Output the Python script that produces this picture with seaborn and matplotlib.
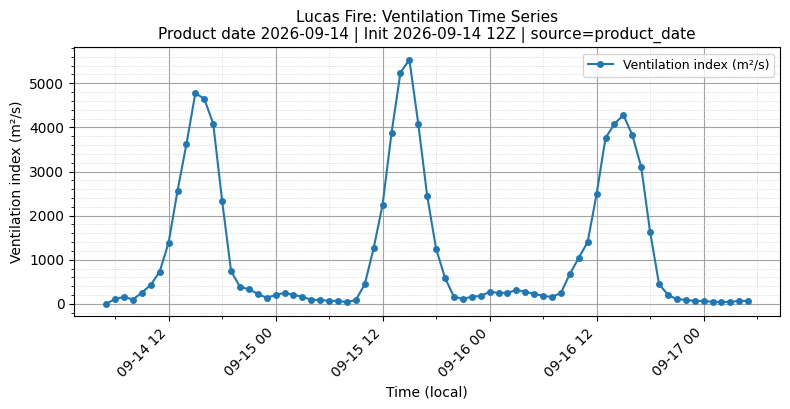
import numpy as np
import pandas as pd
import matplotlib
matplotlib.use("Agg")
import matplotlib.pyplot as plt
import matplotlib.dates as mdates
from matplotlib.ticker import AutoMinorLocator
import seaborn as sns

start_time = "2026-09-14 05:00"

vent_day1 = [0, 113, 159, 98, 257, 430, 733, 1390, 2568, 3625, 4781, 4645,
             4086, 2334, 748, 385, 332, 227, 136, 204, 249, 204, 162, 91]
vent_day2 = [91, 68, 68, 38, 91, 446, 1269, 2251, 3875, 5242, 5536, 4079,
             2447, 1246, 589, 159, 113, 159, 181, 272, 249, 249, 317, 272]
vent_day3 = [227, 181, 159, 249, 680, 1042, 1405, 2492, 3761, 4079, 4282, 3829,
             3104, 1631, 453, 204, 106, 91, 68, 68, 45, 45, 45, 68, 68]

values = vent_day1 + vent_day2 + vent_day3
times = pd.date_range(start_time, periods=len(values), freq="h")
df = pd.DataFrame({"time": times, "vent": values})

fig, ax = plt.subplots(figsize=(7.9, 4.09), dpi=100)
sns.lineplot(data=df, x="time", y="vent", marker="o", markersize=5,
             markeredgewidth=0, color="#1f77b4", linewidth=1.5,
             label="Ventilation index (m²/s)", ax=ax)

ax.xaxis.set_major_locator(mdates.HourLocator(byhour=[0, 12]))
ax.xaxis.set_minor_locator(mdates.HourLocator(byhour=[6, 18]))
ax.xaxis.set_major_formatter(mdates.DateFormatter("%m-%d %H"))
ax.yaxis.set_minor_locator(AutoMinorLocator(5))
plt.setp(ax.get_xticklabels(), rotation=45, ha="right")

ax.grid(which="major", color="#999999", linestyle="-", linewidth=0.8, alpha=0.9)
ax.grid(which="minor", color="#cccccc", linestyle=":", linewidth=0.6, alpha=0.9)

ax.set_title("Lucas Fire: Ventilation Time Series\n"
             "Product date 2026-09-14 | Init 2026-09-14 12Z | source=product_date",
             fontsize=11)
ax.set_xlabel("Time (local)")
ax.set_ylabel("Ventilation index (m²/s)")
ax.legend(loc="upper right", fontsize=9)

fig.tight_layout(pad=0.7)
fig.savefig("out.png", dpi=100)
